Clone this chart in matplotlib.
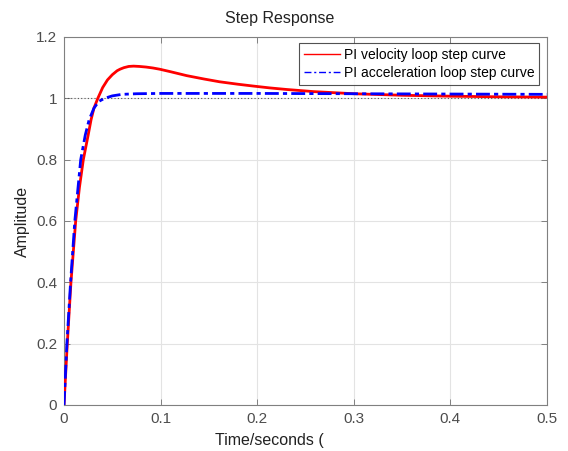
import matplotlib
matplotlib.use("Agg")
import matplotlib.pyplot as plt

# Data
t_vel = [0, 0.0034, 0.0072, 0.0121, 0.016, 0.020, 0.025, 0.028, 0.031, 0.035, 0.040, 0.045,
         0.050, 0.055, 0.058, 0.062, 0.067, 0.072, 0.078, 0.085, 0.092, 0.099, 0.110, 0.127,
         0.145, 0.161, 0.180, 0.196, 0.213, 0.230, 0.258, 0.30, 0.35, 0.40, 0.45, 0.50]
y_vel = [0, 0.20, 0.40, 0.60, 0.71, 0.80, 0.88, 0.93, 0.968, 1.00, 1.035, 1.060,
         1.077, 1.090, 1.095, 1.100, 1.104, 1.105, 1.104, 1.102, 1.099, 1.095, 1.087, 1.074,
         1.063, 1.054, 1.046, 1.040, 1.034, 1.029, 1.022, 1.015, 1.010, 1.007, 1.005, 1.004]

t_acc = [0, 0.003, 0.0068, 0.0112, 0.0173, 0.022, 0.026, 0.031, 0.036, 0.042, 0.050,
         0.060, 0.075, 0.10, 0.20, 0.30, 0.40, 0.50]
y_acc = [0, 0.20, 0.40, 0.60, 0.80, 0.88, 0.93, 0.968, 0.99, 1.00, 1.008,
         1.013, 1.015, 1.016, 1.016, 1.015, 1.014, 1.013]

x_ticks = [0, 0.1, 0.2, 0.3, 0.4, 0.5]
y_ticks = [0, 0.2, 0.4, 0.6, 0.8, 1.0, 1.2]
x_labels = ["0", "0.1", "0.2", "0.3", "0.4", "0.5"]
y_labels = ["0", "0.2", "0.4", "0.6", "0.8", "1", "1.2"]
steady = 1.0

plt.rcParams['font.family'] = ['Liberation Sans', 'DejaVu Sans']

fig = plt.figure(figsize=(5.68, 4.51), dpi=100)
ax = fig.add_axes([64/568, 46/451, 483/568, 368/451])

gray = '#4d4d4d'
ax.plot([0, 0.5], [steady, steady], linestyle=(0, (1, 2)), color='#555555', lw=0.8, zorder=2)
ax.plot(t_vel, y_vel, color='#ff0000', lw=2.0, zorder=3)
ax.plot(t_acc, y_acc, color='#0000ff', lw=2.0, linestyle=(0, (5, 1.5, 1.5, 1.5)), zorder=4)

ax.set_xlim(0, 0.5)
ax.set_ylim(0, 1.2)
ax.set_xticks(x_ticks)
ax.set_xticklabels(x_labels)
ax.set_yticks(y_ticks)
ax.set_yticklabels(y_labels)
ax.grid(True, color='#e3e3e3', lw=0.8)
ax.set_axisbelow(True)
ax.tick_params(direction='in', length=4, width=0.7, colors='#808080', labelcolor=gray,
               labelsize=11, top=True, right=True, pad=5)
for s in ax.spines.values():
    s.set_color('#808080')
    s.set_linewidth(0.8)

fig.text(22/568, 1 - 221/451, 'Amplitude', fontsize=11.5, color='#222222',
         ha='center', va='center', rotation=90)
fig.text(215/568, 1 - 440/451, 'Time/seconds (', fontsize=11.5, color='#222222',
         ha='left', va='center')
fig.text(280/568, 1 - 18/451, 'Step Response', fontsize=11.5, color='#222222',
         ha='center', va='center')

leg = ax.legend(handles=[
    matplotlib.lines.Line2D([], [], color='#ff0000', lw=1.0),
    matplotlib.lines.Line2D([], [], color='#0000ff', lw=1.0, linestyle=(0, (5, 2, 1.5, 2)))],
    labels=['PI velocity loop step curve', 'PI acceleration loop step curve'],
    loc='upper right', bbox_to_anchor=(0.99, 0.992), fontsize=10, frameon=True,
    fancybox=False, edgecolor='#262626', handlelength=2.6, handletextpad=0.3,
    borderpad=0.35, labelspacing=0.3, borderaxespad=0.2)
leg.get_frame().set_linewidth(0.8)

fig.savefig('out.png', dpi=100)
